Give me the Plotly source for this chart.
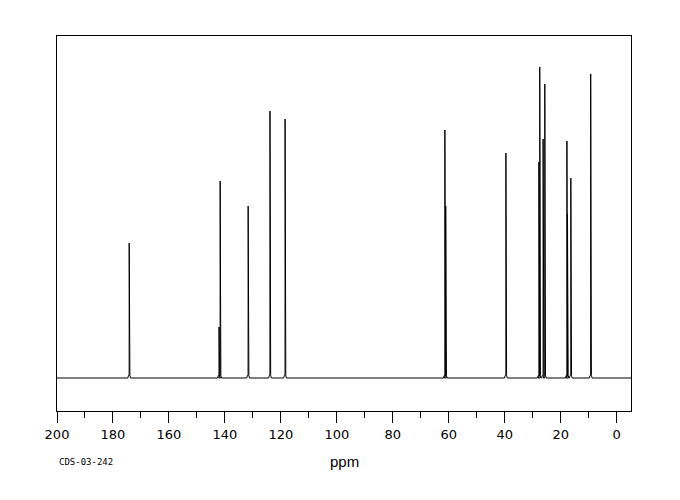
import plotly.graph_objects as go

# Peak positions (ppm) and intensities (arbitrary units, baseline = 0)
peak_ppm = [174.2, 142.1, 141.7, 131.7, 123.9, 118.5, 61.4, 61.1, 39.6,
            27.8, 27.5, 26.3, 25.7, 17.8, 17.6, 16.4, 9.3]
peak_int = [135, 51, 197, 172, 267, 259, 248, 172, 225,
            216, 311, 239, 294, 237, 164, 200, 304]

x_range = [200, -5.1]
tick_vals = [200, 180, 160, 140, 120, 100, 80, 60, 40, 20, 0]
tick_text = [str(v) for v in tick_vals]

# Build the stick spectrum path
xs = [x_range[0]]
ys = [0]
order = sorted(range(len(peak_ppm)), key=lambda i: -peak_ppm[i])
w_base = 0.5
for i in order:
    p = peak_ppm[i]
    h = peak_int[i]
    xs += [p + w_base, p + 0.25, p + 0.02, p, p - 0.02, p - 0.25, p - w_base]
    ys += [0, 2.5, 2.5, h, 2.5, 2.5, 0]
xs.append(x_range[1])
ys.append(0)

fig = go.Figure()
fig.add_trace(go.Scatter(x=xs, y=ys, mode="lines",
                         line=dict(color="black", width=1),
                         hoverinfo="skip", showlegend=False))

# page body has an 8px margin; plot area target: x 57..631, y 36..411
OFF = 8
plot_l, plot_r, plot_t, plot_b = 57, 631, 36, 411
W, H = 680 - OFF, 500 - OFF

def px_to_paper(px, py):
    return ((px - plot_l) / (plot_r - plot_l), (plot_b - py) / (plot_b - plot_t))

ax, ay = px_to_paper(344, 461)
bx, by = px_to_paper(57, 462)

fig.update_layout(
    width=W, height=H,
    margin=dict(l=plot_l - OFF, r=W - (plot_r - OFF), t=plot_t - OFF,
                b=H - (plot_b - OFF), pad=0),
    paper_bgcolor="white", plot_bgcolor="white",
    font=dict(family="DejaVu Sans", color="black"),
    xaxis=dict(range=x_range, showline=True, mirror=True, linecolor="black",
               linewidth=1, showgrid=False, zeroline=False,
               tickmode="array", tickvals=tick_vals, ticktext=tick_text,
               ticks="outside", ticklen=11, tickcolor="black", tickwidth=1,
               tickfont=dict(size=13, family="DejaVu Sans", color="black"),
               minor=dict(dtick=10, tick0=0, ticks="outside", ticklen=6,
                          tickcolor="black", tickwidth=1, showgrid=False)),
    yaxis=dict(range=[-33, 342], showline=True, mirror=True, linecolor="black",
               linewidth=1, showgrid=False, zeroline=False,
               showticklabels=False, ticks=""),
    annotations=[
        dict(text="ppm", x=ax, y=ay, xref="paper", yref="paper", showarrow=False,
             xanchor="center", yanchor="middle",
             font=dict(size=15, family="Liberation Sans", color="black")),
        dict(text="CDS-03-242", x=bx, y=by, xref="paper", yref="paper",
             showarrow=False, xanchor="left", yanchor="middle",
             font=dict(size=9, family="DejaVu Sans Mono", color="black")),
    ],
)

fig.write_html("out.html")
